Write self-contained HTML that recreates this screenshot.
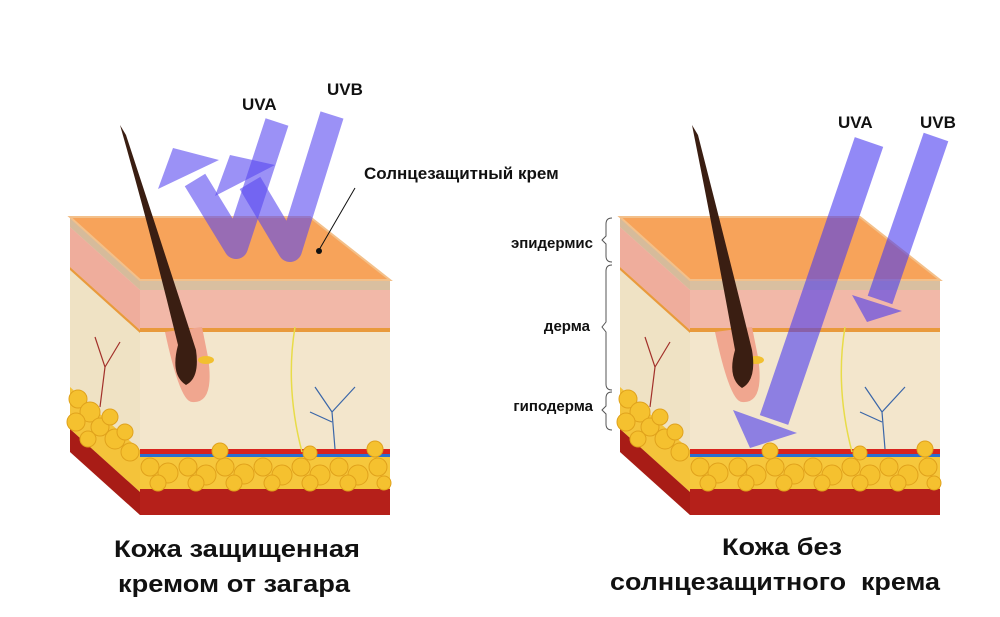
<!DOCTYPE html>
<html><head><meta charset="utf-8"><style>
html,body{margin:0;padding:0;background:#fff}
svg{display:block}
text{font-family:"Liberation Sans",sans-serif;font-weight:bold;fill:#111}
</style></head><body>
<svg width="1000" height="617" viewBox="0 0 1000 617" xmlns="http://www.w3.org/2000/svg">
<defs>
<g id="cube">
  <rect x="70" y="63" width="250" height="235" fill="#f3e6c9"/>
  <rect x="70" y="63" width="250" height="10" fill="#d9bfa0"/>
  <rect x="70" y="73" width="250" height="40" fill="#f2b8a8"/>
  <rect x="70" y="111" width="250" height="4" fill="#e99a3c"/>
  <rect x="70" y="115" width="250" height="113" fill="#f3e6cc"/>
  <rect x="70" y="232" width="250" height="5" fill="#d8231f"/>
  <rect x="70" y="237" width="250" height="4" fill="#2a6fd0"/>
  <rect x="70" y="240" width="250" height="34" fill="#f6c73c"/>
  <rect x="70" y="272" width="250" height="26" fill="#b5201a"/>
  <polygon points="0,0 70,63 70,298 0,235" fill="#efe2c4"/>
  <polygon points="0,0 70,63 70,73 0,10" fill="#d6bb9b"/>
  <polygon points="0,10 70,73 70,113 0,50" fill="#efad9c"/>
  <polygon points="0,50 70,113 70,116 0,53" fill="#e99a3c"/>
  <polygon points="0,170 70,233 70,275 0,212" fill="#f4c33a"/>
  <polygon points="0,212 70,275 70,298 0,235" fill="#a81c16"/>
  <polygon points="0,0 240,0 320,63 70,63" fill="#f7a35a"/>
  <polygon points="0,0 240,0 320,63 70,63" fill="none" stroke="#f3c08a" stroke-width="2"/>
  <g fill="#f5c12f" stroke="#e0a21c" stroke-width="1">
    <circle cx="8" cy="182" r="9"/><circle cx="20" cy="195" r="10"/><circle cx="6" cy="205" r="9"/><circle cx="30" cy="210" r="9"/><circle cx="45" cy="222" r="10"/><circle cx="60" cy="235" r="9"/><circle cx="18" cy="222" r="8"/><circle cx="40" cy="200" r="8"/><circle cx="55" cy="215" r="8"/>
    <circle cx="80" cy="250" r="9"/><circle cx="98" cy="256" r="10"/><circle cx="118" cy="250" r="9"/><circle cx="136" cy="258" r="10"/><circle cx="155" cy="250" r="9"/><circle cx="174" cy="257" r="10"/><circle cx="193" cy="250" r="9"/><circle cx="212" cy="258" r="10"/><circle cx="231" cy="250" r="9"/><circle cx="250" cy="258" r="10"/><circle cx="269" cy="250" r="9"/><circle cx="288" cy="258" r="10"/><circle cx="308" cy="250" r="9"/>
    <circle cx="88" cy="266" r="8"/><circle cx="126" cy="266" r="8"/><circle cx="164" cy="266" r="8"/><circle cx="202" cy="266" r="8"/><circle cx="240" cy="266" r="8"/><circle cx="278" cy="266" r="8"/><circle cx="314" cy="266" r="7"/>
    <circle cx="150" cy="234" r="8"/><circle cx="240" cy="236" r="7"/><circle cx="305" cy="232" r="8"/>
  </g>
  <path d="M225,110 Q215,170 232,235" stroke="#e8dc48" stroke-width="1.5" fill="none"/>
  <path d="M265,232 L262,195 L245,170 M262,195 L285,170 M262,205 L240,195" stroke="#3a66a8" stroke-width="1.2" fill="none"/>
  <path d="M30,190 L35,150 L25,120 M35,150 L50,125" stroke="#a2302a" stroke-width="1.2" fill="none"/>
  <path d="M95,115 Q110,185 122,185 Q145,187 138,140 L132,110 Z" fill="#f0a68f"/>
  <ellipse cx="136" cy="143" rx="8" ry="4" fill="#f2c030"/>
</g>
</defs>

<!-- LEFT -->
<use href="#cube" transform="translate(70,217)"/>
<path d="M120,125 Q150,230 178,345 Q170,375 186,385 Q200,378 196,350 Q180,300 126,135 Z" fill="#3a1e12"/>
<g fill="none" stroke="#5948f0" stroke-width="24" stroke-linejoin="round">
  <polyline points="277,122 236,247 195,180" opacity="0.6"/>
  <polyline points="332,115 290,250 250,183" opacity="0.6"/>
</g>
<g fill="#5948f0">
  <polygon points="173,148 158,189 219,160" opacity="0.6"/>
  <polygon points="230,155 215,196 275,165" opacity="0.6"/>
</g>
<text x="242" y="110" font-size="17">UVA</text>
<text x="327" y="95" font-size="17">UVB</text>
<text x="364" y="179" font-size="17">Солнцезащитный крем</text>
<line x1="355" y1="188" x2="319" y2="250" stroke="#111" stroke-width="1"/>
<circle cx="319" cy="251" r="3" fill="#111"/>

<!-- RIGHT -->
<use href="#cube" transform="translate(620,217)"/>
<path d="M692,125 Q715,240 735,350 Q727,378 742,388 Q757,380 752,350 Q735,280 698,135 Z" fill="#3a1e12"/>
<g fill="none" stroke="#4a3af0" stroke-width="30">
  <line x1="869" y1="142" x2="774" y2="420" opacity="0.6"/>
</g>
<g fill="none" stroke="#4a3af0" stroke-width="26">
  <line x1="936" y1="137" x2="880" y2="300" opacity="0.6"/>
</g>
<g fill="#4a3af0">
  <polygon points="733,410 750,448 797,433" opacity="0.6"/>
  <polygon points="852,295 867,322 902,311" opacity="0.6"/>
</g>
<text x="838" y="128" font-size="17">UVA</text>
<text x="920" y="128" font-size="17">UVB</text>

<text x="593" y="248" font-size="15" text-anchor="end">эпидермис</text>
<text x="590" y="331" font-size="15" text-anchor="end">дерма</text>
<text x="593" y="411" font-size="15" text-anchor="end">гиподерма</text>
<g stroke="#555" stroke-width="1" fill="none">
  <path d="M612,218 Q606,218 606,224 L606,236 L602,240 L606,244 L606,256 Q606,262 612,262"/>
  <path d="M612,265 Q606,265 606,271 L606,322 L602,327 L606,332 L606,384 Q606,390 612,390"/>
  <path d="M612,392 Q606,392 606,398 L606,406 L602,410 L606,414 L606,424 Q606,430 612,430"/>
</g>

<text x="237" y="557" font-size="24" text-anchor="middle" textLength="246" lengthAdjust="spacingAndGlyphs">Кожа защищенная</text>
<text x="234" y="592" font-size="24" text-anchor="middle" textLength="232" lengthAdjust="spacingAndGlyphs">кремом от загара</text>
<text x="782" y="555" font-size="24" text-anchor="middle" textLength="120" lengthAdjust="spacingAndGlyphs">Кожа без</text>
<text x="775" y="590" font-size="24" text-anchor="middle" textLength="330" lengthAdjust="spacingAndGlyphs" xml:space="preserve">солнцезащитного  крема</text>
</svg>
</body></html>
